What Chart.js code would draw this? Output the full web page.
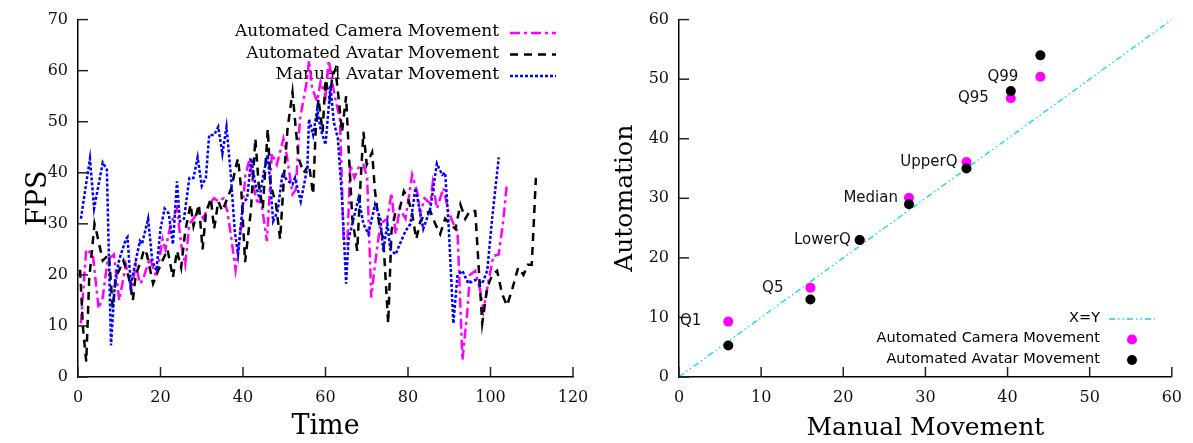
<!DOCTYPE html>
<html>
<head>
  <title>FPS: Automated vs Manual Movement</title>
  <script src="https://cdn.jsdelivr.net/npm/chart.js"></script>
  <style>
    body {
      margin: 0;
      background: #fff;
      width: 1193px;
      height: 443px;
      overflow: hidden;
    }
    #fpsChart { position: absolute; left: 0; top: 0; }
    #quantChart { position: absolute; left: 600px; top: 0; }
  </style>
</head>
<body>

  <canvas id="fpsChart" width="600" height="443"></canvas>
  <canvas id="quantChart" width="593" height="443"></canvas>

  <script>
    // ---- left plot: FPS over time ----
    const camTime = [0.7, 2, 3.6, 5, 6, 7.2, 8.7, 10, 11.6, 13, 14, 15, 15.7, 17.4, 19, 20.5, 21.2, 22.5, 24, 25, 26, 27, 28, 29.3, 30.4, 31.7, 33, 34, 35.3, 36.2, 37.2, 38.2, 39.4, 40.6, 41.7, 42.4, 43.6, 44.3, 45.8, 47, 48.2, 49.8, 50.6, 52, 52.8, 53.8, 55.5, 56, 56.8, 58, 58.8, 60, 60.8, 61.6, 62.4, 63.5, 64.4, 65.3, 66, 67, 68, 69.2, 70.1, 71.1, 72, 73.3, 75, 76, 77, 78, 79.4, 81, 82.3, 83, 84, 85.4, 86, 87, 88.6, 89.8, 91, 92, 93.2, 94.4, 95, 96.3, 97.5, 98.3, 99.4, 100.7, 102, 103, 104];
    const camFps = [10.5, 25, 24, 13.4, 15.6, 23, 24, 15, 22, 17, 22, 18.3, 19, 23.3, 19.5, 27, 25, 30, 33, 26, 22, 30, 31, 32.5, 31, 33.8, 35, 34.4, 35, 32.5, 27, 21, 28.6, 39.6, 43, 37.7, 33.8, 35, 26.6, 43.8, 41.6, 46.7, 43.5, 35.8, 36.7, 50.5, 58, 62, 56.4, 54, 57.8, 55, 62, 57.8, 54.5, 50.5, 26.6, 26, 41.6, 39, 41, 41.6, 39, 15.6, 22, 30, 31, 36, 28, 33, 31, 39.6, 36, 32, 35, 34, 38, 33, 37, 32.5, 30, 28.6, 3.3, 13, 20, 20.8, 17, 13, 18.3, 23.7, 24, 30, 38];

    const avTime = [0.5, 1.2, 2, 2.7, 4, 4.6, 6, 7.5, 8.4, 9.2, 11, 12.3, 13.3, 14, 15.3, 16, 16.7, 18.2, 19.4, 20.5, 21.7, 23, 24, 25, 26, 27.3, 28, 29.3, 30.2, 31, 32.2, 33, 34, 35, 36.2, 37.2, 38.2, 38.8, 39.6, 40.5, 41.9, 43, 43.8, 44.8, 46, 46.7, 48, 49, 50, 50.8, 52, 52.8, 53.5, 54.7, 56, 57, 57.6, 58.3, 59.3, 60, 61, 61.7, 62.4, 63.2, 64, 65, 65.6, 66.5, 67.7, 68.5, 69.2, 70, 71.3, 72, 73, 74, 75.2, 76, 77, 78, 79, 80, 81, 82, 83, 84.2, 85.4, 86.6, 87.8, 89, 90.2, 91.5, 92.7, 93.9, 95, 96.3, 97, 98, 99.2, 100.4, 101.6, 102.8, 104, 105.2, 106.7, 108, 109, 110, 110.4, 111];
    const avFps = [21, 9.7, 3, 19, 30, 28, 22.8, 24, 13.6, 19.5, 22.8, 19.5, 15, 20, 22.8, 25, 24, 18.3, 20.8, 22.8, 25, 19.5, 24.7, 21.4, 28.6, 33.8, 29.6, 33.8, 25, 32, 35, 29, 34.4, 32.5, 35, 37, 41, 42.8, 36.4, 22.5, 32.5, 46.7, 37.7, 33, 48.6, 37.7, 33.8, 27, 40, 48.6, 55.8, 48.6, 42.8, 40, 41.6, 35.8, 48, 54.5, 48, 58.3, 54.5, 59, 60.3, 54.5, 48, 55, 44.7, 31, 24.7, 38.3, 48, 41.6, 44, 36.4, 30, 27, 10.5, 28.6, 32.5, 33, 36.4, 35, 32, 27, 30.5, 32, 32.5, 30, 28, 31, 30, 29, 33.8, 31, 32.5, 32.5, 23.3, 10.5, 17.5, 20, 20.8, 16.3, 14, 17, 21.4, 20, 22, 22, 28.6, 39];

    const manTime = [0.7, 2.9, 3.9, 6, 7, 8, 9, 10, 11.6, 12, 12.8, 13.8, 15, 15.5, 17, 18, 19, 20, 21, 22, 23, 24, 24.7, 25.7, 27, 28, 29, 30, 31, 31.8, 33, 34, 35, 36, 37, 38, 38.8, 40, 41, 42, 43, 44, 45, 46, 46.7, 47.3, 48.4, 49.6, 50.6, 52, 52.6, 54, 55.6, 56, 57, 58, 58.8, 60, 61.2, 62, 63, 64, 65, 65.6, 66.8, 68, 69.2, 70.4, 72, 73.3, 74, 75, 75.7, 77, 78, 79.4, 80.6, 81.8, 82.3, 83.7, 85.4, 87, 88.3, 89, 89.8, 91, 92, 93.2, 94.6, 96.3, 98, 99.2, 100.4, 102];
    const manFps = [31, 42.8, 33, 42, 40.6, 6.2, 19, 23, 27, 27.4, 18, 22, 26.6, 26, 31, 22.8, 20.8, 29, 33, 32, 26, 38.3, 30.5, 31, 39, 39, 43, 37.4, 39, 47.4, 47.4, 49, 43.7, 49, 40, 28.6, 24, 34, 35, 42.8, 37.7, 35, 40, 43.5, 37, 30.5, 32.5, 40, 38.6, 37.7, 39, 34.4, 41, 50.5, 47.4, 52.5, 48.6, 45.5, 57, 50, 46.7, 35, 18.3, 27, 31, 35, 30, 28, 33.8, 31, 24.7, 30, 25, 24, 26, 28.6, 30, 37, 35, 29, 33, 41.8, 39.6, 40, 30.5, 10.5, 20, 20.8, 18.3, 19, 18.3, 20.8, 31, 43];

    const timeTicks = { min: 0, max: 120, step: 20 };
    const fpsTicks = { min: 0, max: 70, step: 10 };

    // ---- right plot: quantiles ----
    const quantNames = ['Q1', 'Q5', 'LowerQ', 'Median', 'UpperQ', 'Q95', 'Q99'];
    const manualQ = [6, 16, 22, 28, 35, 40.4, 44];
    const cameraQ = [9.3, 15, 23, 30.1, 36.1, 46.8, 50.4];
    const avatarQ = [5.3, 13, 23, 29, 35, 48, 54];
    const diagonal = [0, 60];
    const quantTicks = { min: 0, max: 60, step: 10 };

    const labelGap = [27, 27, 9, 11, 9, 22, 22];   // px, label right edge to point

    const MAGENTA = '#ff00ff', BLUE = '#0000ff', CYAN = '#00dcea';
    const serif = 'DejaVu Serif';
    const sans = 'DejaVu Sans';

    Chart.defaults.color = '#000';
    Chart.defaults.font.family = serif;

    const pts = (xs, ys) => xs.map((x, i) => ({ x: x, y: ys[i] }));

    // tick marks drawn inward from the axis lines
    const innerTicks = {
      id: 'innerTicks',
      afterDraw(chart) {
        const ctx = chart.ctx, a = chart.chartArea;
        const xs = chart.scales.x, ys = chart.scales.y;
        ctx.save();
        ctx.strokeStyle = '#222';
        ctx.lineWidth = 1.5;
        xs.ticks.forEach(t => {
          const p = xs.getPixelForValue(t.value);
          ctx.beginPath(); ctx.moveTo(p, a.bottom); ctx.lineTo(p, a.bottom - 10); ctx.stroke();
        });
        ys.ticks.forEach(t => {
          const p = ys.getPixelForValue(t.value);
          ctx.beginPath(); ctx.moveTo(a.left, p); ctx.lineTo(a.left + 10, p); ctx.stroke();
        });
        ctx.restore();
      }
    };

    // gnuplot-like key: right aligned text, sample on the right
    function keyPlugin(id, opts) {
      return {
        id: id,
        beforeDatasetsDraw(chart) {
          const ctx = chart.ctx;
          ctx.save();
          ctx.font = opts.font;
          ctx.textAlign = 'right';
          ctx.textBaseline = 'middle';
          ctx.fillStyle = '#000';
          opts.items.forEach((idx, row) => {
            const ds = chart.data.datasets[idx];
            const y = opts.top + row * opts.rowH;
            ctx.fillText(ds.label, opts.textRight, y);
            if (ds.showLine === false || ds.pointRadius > 0) {
              ctx.beginPath();
              ctx.fillStyle = ds.backgroundColor;
              ctx.arc((opts.sampleL + opts.sampleR) / 2, y + 1, ds.pointRadius, 0, Math.PI * 2);
              ctx.fill();
              ctx.fillStyle = '#000';
            } else {
              ctx.beginPath();
              ctx.strokeStyle = ds.borderColor;
              ctx.lineWidth = ds.borderWidth;
              ctx.setLineDash(ds.borderDash || []);
              ctx.moveTo(opts.sampleL, y + 1);
              ctx.lineTo(opts.sampleR, y + 1);
              ctx.stroke();
              ctx.setLineDash([]);
            }
          });
          ctx.restore();
        }
      };
    }

    const quantLabels = {
      id: 'quantLabels',
      afterDatasetsDraw(chart) {
        const ctx = chart.ctx, xs = chart.scales.x, ys = chart.scales.y;
        ctx.save();
        ctx.font = '15px ' + sans;
        ctx.textAlign = 'right';
        ctx.textBaseline = 'middle';
        ctx.fillStyle = '#111';
        quantNames.forEach((name, i) => {
          ctx.fillText(name, xs.getPixelForValue(manualQ[i]) - labelGap[i], ys.getPixelForValue(cameraQ[i]));
        });
        ctx.restore();
      }
    };

    function axis(t, title, titleFont, titlePad, tickPad, fit) {
      return {
        type: 'linear',
        min: t.min, max: t.max,
        ticks: { stepSize: t.step, padding: tickPad, font: { size: 16 }, color: '#111' },
        grid: { display: false, drawTicks: false },
        border: { display: true, color: '#000', width: 1.5 },
        title: { display: true, text: title, font: titleFont, padding: titlePad, color: '#000' },
        afterFit: fit
      };
    }

    new Chart(document.getElementById('fpsChart'), {
      type: 'scatter',
      data: {
        datasets: [
          {
            label: 'Automated Camera Movement',
            data: pts(camTime, camFps),
            showLine: true, pointRadius: 0,
            borderColor: MAGENTA, borderWidth: 2.5,
            borderDash: [10, 4, 3, 4],
            order: 3
          },
          {
            label: 'Automated Avatar Movement',
            data: pts(avTime, avFps),
            showLine: true, pointRadius: 0,
            borderColor: '#000', borderWidth: 2.5,
            borderDash: [8, 6],
            order: 2
          },
          {
            label: 'Manual Avatar Movement',
            data: pts(manTime, manFps),
            showLine: true, pointRadius: 0,
            borderColor: BLUE, borderWidth: 2.5,
            borderDash: [3, 2],
            order: 1
          }
        ]
      },
      options: {
        responsive: false,
        animation: false,
        devicePixelRatio: 1,
        layout: { padding: { left: 0, top: 17, right: 27, bottom: 0 } },
        plugins: { legend: { display: false }, tooltip: { enabled: false } },
        scales: {
          x: axis(timeTicks, 'Time', { size: 27 }, { top: 0, bottom: 0 }, 11, s => { s.height = 66; }),
          y: axis(fpsTicks, 'FPS', { size: 27 }, { top: 23, bottom: 0 }, 10, s => { s.width = 78; })
        }
      },
      plugins: [innerTicks, keyPlugin('fpsKey', {
        font: '17px ' + serif, items: [0, 1, 2],
        textRight: 499, sampleL: 510, sampleR: 556, top: 32, rowH: 21.5
      })]
    });

    new Chart(document.getElementById('quantChart'), {
      type: 'scatter',
      data: {
        datasets: [
          {
            label: 'X=Y',
            data: pts(diagonal, diagonal),
            showLine: true, pointRadius: 0,
            borderColor: CYAN, borderWidth: 1.3,
            borderDash: [6, 3, 1.5, 3, 1.5, 3],
            order: 3
          },
          {
            label: 'Automated Camera Movement',
            data: pts(manualQ, cameraQ),
            showLine: false, pointRadius: 5, borderWidth: 0,
            backgroundColor: MAGENTA,
            order: 2
          },
          {
            label: 'Automated Avatar Movement',
            data: pts(manualQ, avatarQ),
            showLine: false, pointRadius: 5, borderWidth: 0,
            backgroundColor: '#000',
            order: 1
          }
        ]
      },
      options: {
        responsive: false,
        animation: false,
        devicePixelRatio: 1,
        layout: { padding: { left: 0, top: 16, right: 21, bottom: 0 } },
        plugins: { legend: { display: false }, tooltip: { enabled: false } },
        scales: {
          x: axis(quantTicks, 'Manual Movement', { size: 25 }, { top: 0, bottom: 0 }, 11, s => { s.height = 66; }),
          y: axis(quantTicks, 'Automation', { size: 25 }, { top: 10, bottom: 0 }, 10, s => { s.width = 79; })
        }
      },
      plugins: [innerTicks, quantLabels, keyPlugin('quantKey', {
        font: '14.5px ' + sans, items: [0, 1, 2],
        textRight: 500, sampleL: 509, sampleR: 555, top: 318, rowH: 20.5
      })]
    });
  </script>
</body>
</html>
